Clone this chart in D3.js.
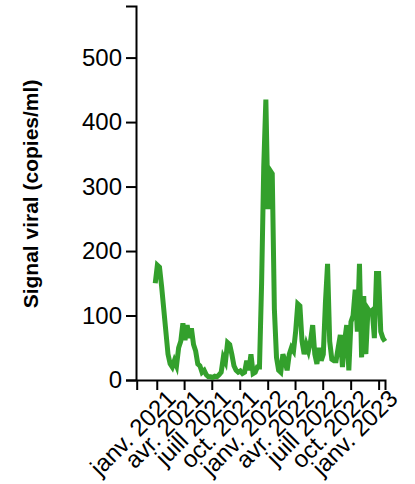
<!DOCTYPE html>
<html>
<head>
<meta charset="utf-8">
<script src="https://cdn.jsdelivr.net/npm/d3@7"></script>
<style>
	body { margin: 0; background: #fff; }
	svg { display: block; font-family: "Liberation Sans", Arial, sans-serif; }
</style>
</head>
<body>
<div id="main"></div>
<script>

// weekly samples, first one on 2020-12-27
const startDate = "2020-12-27"
const values = [
	150, 178, 175, 145, 110, 75, 40, 25, 20, 30,
	22, 50, 60, 88, 62, 85, 65, 80, 55, 45,
	25, 22, 12, 15, 8, 5, 5, 4, 6, 5,
	8, 12, 35, 28, 58, 55, 40, 22, 15, 12,
	14, 10, 12, 30, 15, 40, 10, 12, 20, 20,
	150, 330, 435, 265, 325, 320, 110, 35, 15, 12,
	40, 30, 15, 40, 50, 45, 75, 118, 115, 60,
	40, 55, 45, 60, 85, 40, 25, 50, 30, 40,
	120, 180, 60, 32, 30, 30, 50, 70, 20, 60,
	85, 15, 90, 100, 140, 75, 180, 35, 130, 40,
	110, 105, 108, 65, 165, 165, 75, 65, 60
]
const yTicks = [0, 100, 200, 300, 400, 500]
const xTicks = ["2021-01-01", "2021-04-01", "2021-07-01", "2021-10-01",
	"2022-01-01", "2022-04-01", "2022-07-01", "2022-10-01", "2023-01-01"]
const xTickLabels = ["janv. 2021", "avr. 2021", "juill 2021", "oct. 2021",
	"janv. 2022", "avr. 2022", "juill 2022", "oct. 2022", "janv. 2023"]
const yLabel = "Signal viral (copies/ml)"

const parse = d3.timeParse("%Y-%m-%d")
const t0 = parse(startDate)
const data = values.map((v, i) => ({date: d3.timeDay.offset(t0, i * 7), value: v}))

let margin = {top: 6, right: 30, bottom: 104, left: 136}
let width = 415 - margin.left - margin.right;
let height = 484 - margin.top - margin.bottom;

let x = d3.scaleTime()
	.domain([parse("2020-10-27"), parse("2023-01-22")])
	.range([0.7, 249]);

let y = d3.scaleLinear()
	.domain([0, 580])
	.range([height, 0]);

let svg = d3.select("#main")
	.append("svg")
		.attr("width", 415)
		.attr("height", 484)
	.append("g")
		.attr("transform", `translate(${margin.left}, ${margin.top})`);

// X axis
let gx = svg.append("g")
	.attr("transform", `translate(0,${height})`)
	.call(d3.axisBottom(x)
		.tickValues(xTicks.map(parse))
		.tickFormat((d, i) => xTickLabels[i])
		.tickSize(10)
		.tickPadding(0));

gx.selectAll("text")
	.style("text-anchor", "end")
	.attr("font-size", 24)
	.attr("fill", "#000")
	.attr("dy", null)
	.attr("y", 0)
	.attr("transform", "translate(20,20) rotate(-45)");

// Y axis
let gy = svg.append("g")
	.call(d3.axisLeft(y)
		.tickValues(yTicks)
		.tickSize(10)
		.tickPadding(4));

gy.selectAll("text")
	.attr("font-size", 24)
	.attr("fill", "#000");

svg.selectAll(".domain, .tick line")
	.attr("stroke", "#000")
	.attr("stroke-width", 2);

svg.append("text")
	.attr("transform", `translate(${38 - margin.left}, ${194 - margin.top}) rotate(-90)`)
	.attr("text-anchor", "middle")
	.attr("font-size", 21)
	.attr("font-weight", "bold")
	.text(yLabel);

// line
svg.append("path")
	.datum(data)
	.attr("fill", "none")
	.attr("stroke", "#33a02c")
	.attr("stroke-width", 5)
	.attr("d", d3.line()
		.x(d => x(d.date))
		.y(d => y(d.value)));

</script>
</body>
</html>
